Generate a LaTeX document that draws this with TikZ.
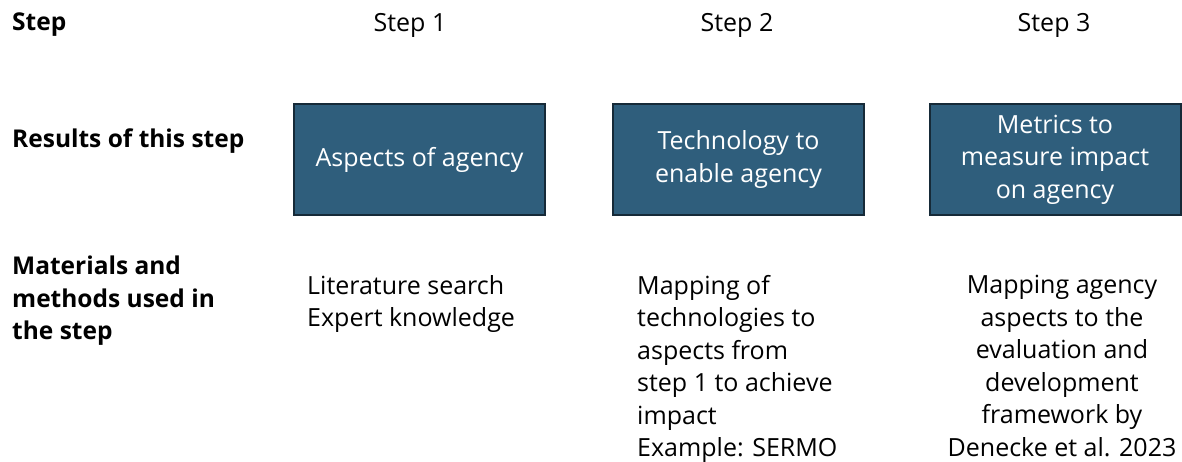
\documentclass[tikz,border=0pt]{standalone}
\usepackage{fontspec}
\setmainfont{Open Sans}
\definecolor{boxfill}{RGB}{47,94,124}
\definecolor{boxline}{RGB}{22,42,56}
\tikzset{
  rowlabel/.style={anchor=west,inner sep=0pt,align=left,font=\fontsize{24.5}{32.5}\selectfont\bfseries},
  stephead/.style={inner sep=0pt,font=\fontsize{25}{32.5}\selectfont},
  resultbox/.style={draw=boxline,line width=2pt,fill=boxfill,text=white,minimum width=251pt,minimum height=111pt,inner sep=0pt,align=center,font=\fontsize{25}{32.5}\selectfont},
  methodtext/.style={anchor=north,inner sep=0pt,font=\fontsize{25}{32.5}\selectfont}
}
\begin{document}
\begin{tikzpicture}[x=1pt,y=-1pt]
    \useasboundingbox (0,0) rectangle (1182,461);
    % row labels
    \node[rowlabel] (lstep) at (12,25) {Step};
    \node[rowlabel] (lres) at (12,141) {Results of this step};
    \node[rowlabel] (lmat) at (12,301) {Materials and\\methods used in\\the step};
    % column heads
    \node[stephead] (s1) at (410,25) {Step 1};
    \node[stephead] (s2) at (737,25) {Step 2};
    \node[stephead] (s3) at (1054,25) {Step 3};
    % results
    \node[resultbox] (r1) at (419.5,159.5) {Aspects of agency};
    \node[resultbox] (r2) at (738.5,159.5) {Technology to\\enable agency};
    \node[resultbox] (r3) at (1055,159.5) {Metrics to\\measure impact\\on agency};
    % materials and methods
    \node[methodtext,align=left,anchor=north west] (m1) at (307,275) {Literature search\\Expert knowledge};
    \node[methodtext,align=left,anchor=north west] (m2) at (637,275) {Mapping of\\technologies to\\aspects from\\step 1 to achieve\\impact\\Example: SERMO};
    \node[methodtext,align=center] (m3) at (1062,275) {Mapping agency\\aspects to the\\evaluation and\\development\\framework by\\Denecke et al. 2023};
\end{tikzpicture}
\end{document}
